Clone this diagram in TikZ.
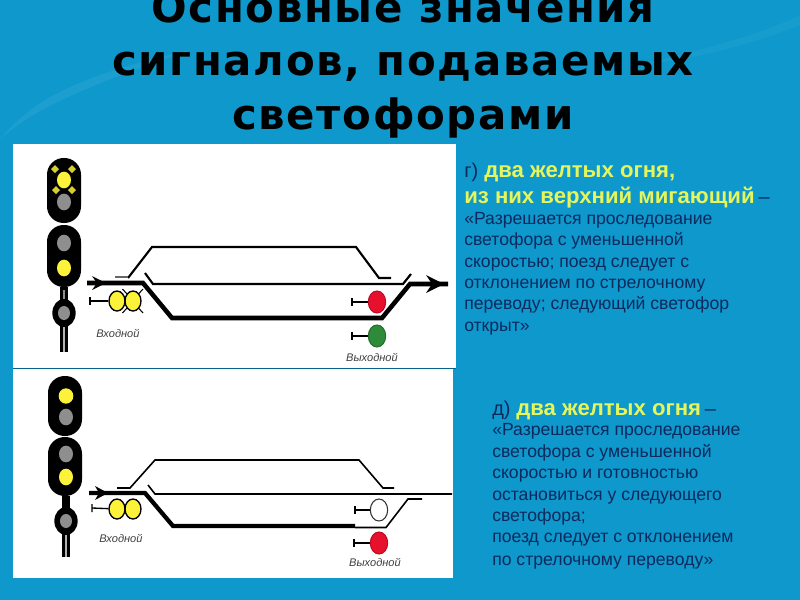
\documentclass[tikz,border=0pt]{standalone}
\usepackage{fontspec}
\setmainfont{Liberation Sans}
\newfontfamily\titlefont[LetterSpace=4]{DejaVu Sans Bold}
\usetikzlibrary{shapes.geometric}
\definecolor{bgblue}{HTML}{0E98CC}
\definecolor{bgdeep}{HTML}{0A8FC4}
\definecolor{lampyellow}{HTML}{FCF23A}
\definecolor{lampgrey}{HTML}{8E8E8E}
\definecolor{lampred}{HTML}{E8112D}
\definecolor{lampgreen}{HTML}{2E8B3A}
\definecolor{headtext}{HTML}{E6F55A}
\definecolor{bodytext}{HTML}{0B2A5E}
\tikzset{
 x=0.75pt,y=-0.75pt,
 titletext/.style={font=\titlefont\fontsize{31.4}{31.4}\selectfont,text=black,inner sep=0pt,anchor=base},
 headline/.style={font=\fontsize{16.6}{16.6}\selectfont\bfseries,text=headtext,inner sep=0pt,anchor=base west},
 bodyline/.style={font=\fontsize{13.2}{13.2}\selectfont,text=bodytext,inner sep=0pt,anchor=base west},
 marker/.style={font=\fontsize{15}{15}\selectfont,text=bodytext,inner sep=0pt,anchor=base west},
 lampglass/.style={ellipse,minimum width=10.5pt,minimum height=12.5pt,inner sep=0pt,fill=#1},
 smallglass/.style={ellipse,minimum width=9pt,minimum height=10.5pt,inner sep=0pt,fill=lampgrey},
 smallhead/.style={ellipse,fill=black,minimum width=17.5pt,minimum height=21pt,inner sep=0pt},
 shunt/.style={ellipse,draw=black,line width=1pt,minimum width=12pt,minimum height=15pt,inner sep=0pt,fill=#1},
 bigshunt/.style={ellipse,draw=#1!80!black,line width=.8pt,minimum width=13pt,minimum height=16.5pt,inner sep=0pt,fill=#1},
 upperthick/.style={line width=3.4pt,line join=miter},
 upperthin/.style={line width=1.6pt,line join=miter},
 lowerthick/.style={line width=3.2pt,line join=miter},
 lowerthin/.style={line width=1.2pt,line join=miter},
 caption/.style={font=\fontsize{8.3}{8.3}\selectfont\itshape,text=black!75,inner sep=0pt},
 headbox/.style={fill=black,rounded corners=12.5pt},
 flash/.style={fill=lampyellow!85!black,draw=none},
}
\begin{document}
\begin{tikzpicture}
\useasboundingbox (0,0) rectangle (800,600);
\fill[bgblue] (0,0) rectangle (800,600);
\fill[white,opacity=.06] (0,140) .. controls (30,100) and (80,75) .. (190,50) .. controls (90,85) and (30,110) .. (0,140) -- cycle;
\fill[white,opacity=.04] (640,65) .. controls (700,50) and (760,35) .. (800,15) -- (800,25) .. controls (750,45) and (700,58) .. (640,65) -- cycle;
\fill[white] (13,144) rectangle (456,368);
\fill[white] (13,369) rectangle (453,578);
\draw[bgdeep!70!black,line width=0.7pt] (13,368.5) -- (456,368.5);
% title
\node[titletext] (t1) at (403,22) {Основные значения};
\node[titletext] (t2) at (403,75) {сигналов, подаваемых};
\node[titletext] (t3) at (403,129) {светофорами};
% upper signal
\fill[black] (60,287) rectangle (68,352);
\fill[lampgrey] (63.4,290) rectangle (64.6,300);
\fill[white!70!black] (63.4,325) rectangle (64.6,352);
\fill[headbox] (47,158) rectangle (81,223);
\fill[headbox] (47,225) rectangle (81,287);
\node[smallhead] (ua) at (64,313) {};
\node[lampglass=lampyellow] (u1) at (64,180) {};
\node[lampglass=lampgrey] (u2) at (64,202) {};
\node[lampglass=lampgrey] (u3) at (64,243) {};
\node[lampglass=lampyellow] (u4) at (64,268) {};
\node[smallglass] (u5) at (64,313) {};
\foreach \px/\py in {55/169,72/169,56/190,72/190}
  \fill[flash] (\px,\py-4) -- (\px+4,\py) -- (\px,\py+4) -- (\px-4,\py) -- cycle;
% lower signal
\fill[black] (62,496) rectangle (70,557);
\fill[white!70!black] (65.4,530) rectangle (66.6,557);
\fill[headbox] (48,376) rectangle (82,436);
\fill[headbox] (48,437) rectangle (82,496);
\node[smallhead] (la) at (66,521) {};
\node[lampglass=lampyellow,minimum height=11.5pt,minimum width=11pt] (l1) at (66,396) {};
\node[lampglass=lampgrey] (l2) at (66,417) {};
\node[lampglass=lampgrey] (l3) at (66,454) {};
\node[lampglass=lampyellow] (l4) at (66,477) {};
\node[smallglass] (l5) at (66,521) {};
% upper tracks
\draw[upperthick] (87,283) -- (143,283) -- (172,318) -- (382,318) -- (410,284) -- (448,284);
\draw[upperthin] (145,273) -- (153,284) -- (403,284) -- (411,274);
\draw[upperthin] (128,278) -- (152,247) -- (356,247) -- (379,278) -- (391,278);
\draw[black!60,line width=1.5pt] (115,277) -- (128,277);
\fill (92,276) -- (106,283) -- (92,290) -- (97,283) -- cycle;
\fill (426,275) -- (444,284) -- (426,293) -- (432,284) -- cycle;
% lower tracks
\draw[lowerthick] (89,493) -- (145,493) -- (173,526) -- (355,526);
\draw[lowerthin] (355,527.5) -- (386,527.5) -- (408,499) -- (422,499);
\draw[lowerthin] (148,485) -- (155,494) -- (452,494);
\draw[lowerthin] (117,488) -- (130,488) -- (155,460) -- (359,460) -- (383,488) -- (394,488);
\fill (95,486) -- (108,493) -- (95,500) -- (99,493) -- cycle;
% upper lights
\node[shunt=lampyellow] (ue1) at (117,301) {};
\node[shunt=lampyellow] (ue2) at (133,301) {};
\draw[line width=1pt] (90,297) -- (90,305) (90,301) -- (ue1);
\draw[line width=.8pt] (122.5,289) -- (127,294) (143,289) -- (138.5,294) (122.5,313) -- (127,308) (143,313) -- (138.5,308);
\node[bigshunt=lampred] (ur) at (377,302) {};
\draw[line width=1pt] (352,298) -- (352,306) (352,302) -- (ur);
\node[bigshunt=lampgreen] (ug) at (377,336) {};
\draw[line width=1pt] (352,332) -- (352,340) (352,336) -- (ug);
\node[caption] (uc1) at (118,333) {Входной};
\node[caption] (uc2) at (372,357) {Выходной};
% lower lights
\node[shunt=lampyellow] (le1) at (117,509) {};
\node[shunt=lampyellow] (le2) at (133,509) {};
\draw[line width=1pt] (92,504) -- (92,512) (92,508) -- (le1);
\node[bigshunt=white,draw=black!80] (lw) at (379,510) {};
\draw[line width=1pt] (355,506) -- (355,514) (355,510) -- (lw);
\node[bigshunt=lampred] (lr) at (379,543) {};
\draw[line width=1pt] (354,539) -- (354,547) (354,543) -- (lr);
\node[caption] (lc1) at (121,538) {Входной};
\node[caption] (lc2) at (375,562) {Выходной};
% upper text
\node[marker] (a0) at (464,177) {г)};
\node[headline] (a1) at (484,177) {два желтых огня,};
\node[headline] (a2) at (464,203) {из них верхний мигающий};
\node[marker] (a2b) at (a2.base east) {\,–};
\node[bodyline] (a3) at (464,224) {«Разрешается проследование};
\node[bodyline] (a4) at (464,245) {светофора с уменьшенной};
\node[bodyline] (a5) at (464,267) {скоростью; поезд следует с};
\node[bodyline] (a6) at (464,288) {отклонением по стрелочному};
\node[bodyline] (a7) at (464,309) {переводу; следующий светофор};
\node[bodyline] (a8) at (464,331) {открыт»};
% lower text
\node[marker] (b0) at (492,415) {д)};
\node[headline] (b1) at (516,415) {два желтых огня};
\node[marker] (b1b) at (b1.base east) {\,–};
\node[bodyline] (b2) at (492,435) {«Разрешается проследование};
\node[bodyline] (b3) at (492,457) {светофора с уменьшенной};
\node[bodyline] (b4) at (492,478) {скоростью и готовностью};
\node[bodyline] (b5) at (492,500) {остановиться у следующего};
\node[bodyline] (b6) at (492,521) {светофора;};
\node[bodyline] (b7) at (492,542) {поезд следует с отклонением};
\node[bodyline] (b8) at (492,565) {по стрелочному переводу»};
\end{tikzpicture}
\end{document}
